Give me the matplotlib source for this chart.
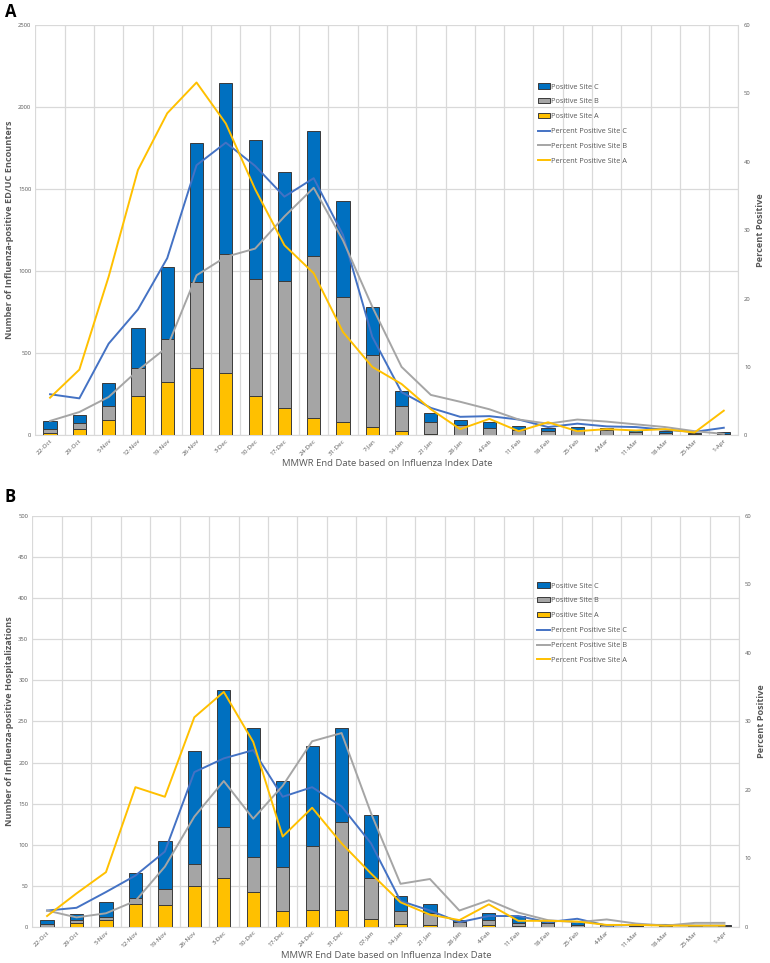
import numpy as np
import matplotlib
matplotlib.use("Agg")
import matplotlib.pyplot as plt

plt.rcParams['font.family'] = ['Open Sans', 'DejaVu Sans']

# semanas (etiquetas del eje x)
semanas_a = ['22-Oct', '29-Oct', '5-Nov', '12-Nov', '19-Nov', '26-Nov', '3-Dec', '10-Dec',
             '17-Dec', '24-Dec', '31-Dec', '7-Jan', '14-Jan', '21-Jan', '28-Jan', '4-Feb',
             '11-Feb', '18-Feb', '25-Feb', '4-Mar', '11-Mar', '18-Mar', '25-Mar', '1-Apr']
semanas_b = ['22-Oct', '29-Oct', '5-Nov', '12-Nov', '19-Nov', '26-Nov', '3-Dec', '10-Dec',
             '17-Dec', '24-Dec', '31-Dec', '07-Jan', '14-Jan', '21-Jan', '28-Jan', '4-Feb',
             '11-Feb', '18-Feb', '25-Feb', '4-Mar', '11-Mar', '18-Mar', '25-Mar', '1-Apr']

# Panel A: encuentros ED/UC positivos por sitio
enc_a = [16, 37, 96, 242, 325, 413, 380, 242, 169, 106, 83, 51, 26, 9, 2, 4, 2, 2, 2, 2, 1, 1, 1, 2]
enc_b = [21, 38, 85, 165, 263, 522, 722, 711, 772, 988, 761, 437, 151, 74, 59, 43, 29, 24, 31, 31, 19, 13, 5, 8]
enc_c = [48, 51, 138, 246, 437, 844, 1047, 844, 665, 762, 583, 291, 91, 51, 31, 34, 26, 21, 20, 10, 13, 15, 10, 12]

pct_enc_a = [5.5, 9.6, 23.2, 38.8, 47.1, 51.6, 45.6, 36.0, 27.8, 23.7, 15.1, 10.0, 7.5, 3.8,
             0.9, 2.4, 0.6, 1.9, 0.6, 0.9, 0.7, 0.9, 0.4, 3.6]
pct_enc_b = [2.1, 3.4, 5.6, 9.5, 12.9, 23.4, 26.1, 27.3, 32.0, 36.2, 28.5, 18.8, 10.0, 5.9,
             4.9, 3.8, 2.3, 1.7, 2.3, 2.0, 1.6, 1.2, 0.6, 0.2]
pct_enc_c = [6.0, 5.4, 13.4, 18.4, 25.9, 39.5, 42.8, 39.4, 34.9, 37.6, 29.3, 14.4, 6.3, 4.0,
             2.7, 2.8, 2.3, 1.2, 1.7, 1.3, 1.2, 0.8, 0.5, 1.1]

# Panel B: hospitalizaciones positivas por sitio
hosp_a = [0, 5, 8, 28, 27, 50, 60, 42, 19, 21, 21, 10, 4, 2, 0, 3, 1, 0, 0, 0, 0, 0, 0, 0]
hosp_b = [4, 4, 4, 7, 19, 27, 61, 43, 54, 77, 107, 49, 15, 15, 6, 6, 4, 5, 3, 2, 1, 1, 1, 1]
hosp_c = [5, 7, 18, 31, 58, 137, 167, 157, 105, 122, 114, 77, 19, 11, 2, 8, 8, 2, 3, 1, 1, 1, 1, 1.5]

pct_hosp_a = [1.6, 4.9, 8.0, 20.4, 19.0, 30.6, 34.3, 27.0, 13.2, 17.4, 12.2, 7.8, 3.6, 1.8,
              1.0, 3.3, 0.9, 0.9, 0.8, 0.3, 0.3, 0.2, 0.2, 0.2]
pct_hosp_b = [2.4, 1.4, 2.0, 3.8, 8.8, 16.1, 21.3, 15.8, 20.6, 27.1, 28.3, 16.6, 6.3, 7.0,
              2.4, 3.9, 2.1, 1.0, 0.7, 1.1, 0.5, 0.2, 0.6, 0.6]
pct_hosp_c = [2.4, 2.8, 5.1, 7.5, 11.0, 22.6, 24.6, 25.8, 19.0, 20.4, 17.6, 12.2, 3.8, 2.4,
              0.7, 1.6, 1.6, 0.7, 1.2, 0.2, 0.3, 0.3, 0.2, 0.2]

azul, gris, amarillo = '#0070C0', '#A5A5A5', '#FFC000'
azul_linea = '#4472C4'
texto = '#595959'
rejilla = '#D9D9D9'


def panel(ax, semanas, a, b, c, pa, pb, pc, ymax, ystep, ylabel, leg_y):
    x = np.arange(len(semanas))
    a = np.array(a, float)
    b = np.array(b, float)
    c = np.array(c, float)
    w = 0.45
    h1 = ax.bar(x, c, w, bottom=a + b, color=azul, edgecolor='#3a3a3a', linewidth=0.7,
                label='Positive Site C', zorder=3)
    h2 = ax.bar(x, b, w, bottom=a, color=gris, edgecolor='#3a3a3a', linewidth=0.7,
                label='Positive Site B', zorder=3)
    h3 = ax.bar(x, a, w, color=amarillo, edgecolor='#3a3a3a', linewidth=0.7,
                label='Positive Site A', zorder=3)
    ax.set_xlim(-0.5, len(semanas) - 0.5)
    ax.set_ylim(0, ymax)
    ax.set_yticks(np.arange(0, ymax + 1, ystep))
    ax.set_xticks(x)
    ax.set_xticklabels(semanas, rotation=45, ha='right', rotation_mode='anchor',
                       fontsize=4.6, color=texto)
    ax.set_xticks(np.arange(-0.5, len(semanas), 1), minor=True)
    ax.grid(axis='x', which='minor', color=rejilla, linewidth=0.9, zorder=0)
    ax.grid(axis='y', which='major', color=rejilla, linewidth=0.9, zorder=0)
    ax.tick_params(axis='x', which='both', length=0, pad=2)
    ax.tick_params(axis='y', length=0, labelsize=4.2, labelcolor=texto, pad=3)
    for s in ax.spines.values():
        s.set_visible(False)
    ax.spines['bottom'].set_visible(True)
    ax.spines['bottom'].set_color(rejilla)
    ax.set_ylabel(ylabel, fontsize=6.6, fontweight='bold', color=texto, labelpad=3)
    ax.set_xlabel('MMWR End Date based on Influenza Index Date', fontsize=6.8,
                  color=texto, labelpad=2)

    ax2 = ax.twinx()
    l1, = ax2.plot(x, pc, color=azul_linea, lw=1.4, label='Percent Positive Site C', zorder=4)
    l2, = ax2.plot(x, pb, color=gris, lw=1.4, label='Percent Positive Site B', zorder=4)
    l3, = ax2.plot(x, pa, color=amarillo, lw=1.4, label='Percent Positive Site A', zorder=4)
    ax2.set_ylim(0, 60)
    ax2.set_yticks(np.arange(0, 61, 10))
    ax2.tick_params(axis='y', length=0, labelsize=4.2, labelcolor=texto, pad=4)
    for s in ax2.spines.values():
        s.set_visible(False)
    ax2.spines['right'].set_visible(True)
    ax2.spines['right'].set_color(rejilla)
    ax2.set_ylabel('Percent Positive', fontsize=6.6, fontweight='bold', color=texto, labelpad=4)

    leg = ax2.legend([h1, h2, h3, l1, l2, l3],
                     [h.get_label() for h in (h1, h2, h3, l1, l2, l3)],
                     loc='upper left', bbox_to_anchor=(0.71, leg_y), frameon=False,
                     fontsize=5.3, labelspacing=1.05, handlelength=1.7, handleheight=0.7,
                     handletextpad=0.15, borderaxespad=0)
    for t in leg.get_texts():
        t.set_color(texto)


fig = plt.figure(figsize=(7.7, 9.63), dpi=100)
ax_a = fig.add_axes([0.046, 0.548, 0.913, 0.426])
ax_b = fig.add_axes([0.042, 0.0374, 0.918, 0.427])

panel(ax_a, semanas_a, enc_a, enc_b, enc_c, pct_enc_a, pct_enc_b, pct_enc_c,
      2500, 500, 'Number of Influenza-positive ED/UC Encounters', 0.865)
panel(ax_b, semanas_b, hosp_a, hosp_b, hosp_c, pct_hosp_a, pct_hosp_b, pct_hosp_c,
      500, 50, 'Number of Influenza-positive Hospitalizations', 0.845)

fig.text(0.006, 0.997, 'A', fontsize=12, fontweight='bold', va='top')
fig.text(0.006, 0.493, 'B', fontsize=12, fontweight='bold', va='top')

plt.savefig('out.png', dpi=100)
